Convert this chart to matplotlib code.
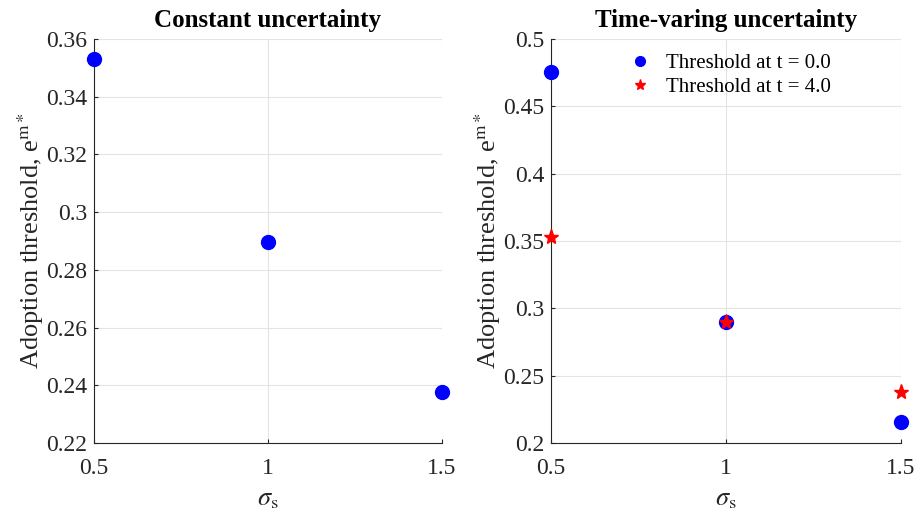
import matplotlib
matplotlib.use("Agg")
import matplotlib.pyplot as plt
from matplotlib.lines import Line2D

plt.rcParams['font.family'] = ['Liberation Serif', 'DejaVu Serif']
plt.rcParams['mathtext.fontset'] = 'stix'

sigma = [0.5, 1.0, 1.5]
const_thr = [0.353, 0.2897, 0.2378]
tv_thr_t0 = [0.4752, 0.2898, 0.2155]
tv_thr_t4 = [0.3533, 0.2898, 0.2380]

left_yticks = [0.22, 0.24, 0.26, 0.28, 0.30, 0.32, 0.34, 0.36]
left_ylabels = ['0.22', '0.24', '0.26', '0.28', '0.3', '0.32', '0.34', '0.36']
right_yticks = [0.2, 0.25, 0.3, 0.35, 0.4, 0.45, 0.5]
right_ylabels = ['0.2', '0.25', '0.3', '0.35', '0.4', '0.45', '0.5']
xticks = [0.5, 1.0, 1.5]
xlabels = ['0.5', '1', '1.5']

fig = plt.figure(figsize=(9.15, 5.17), dpi=100)
ax1 = fig.add_axes([94/915, 1-443/517, (442-94)/915, (443-39)/517])
ax2 = fig.add_axes([551/915, 1-443/517, (901-551)/915, (443-39)/517])

def style(ax, yt, yl, title):
    ax.set_xlim(0.5, 1.5)
    ax.set_ylim(yt[0], yt[-1])
    ax.set_xticks(xticks)
    ax.set_xticklabels(xlabels)
    ax.set_yticks(yt)
    ax.set_yticklabels(yl)
    ax.grid(True, color='#e3e3e3', linewidth=0.8)
    ax.set_axisbelow(True)
    for s in ['top', 'right']:
        ax.spines[s].set_visible(False)
    for s in ['left', 'bottom']:
        ax.spines[s].set_color('#262626')
        ax.spines[s].set_linewidth(0.8)
    ax.tick_params(direction='in', length=3, labelsize=17, colors='#262626')
    ax.tick_params(axis='x', pad=11)
    ax.tick_params(axis='y', pad=5)
    ax.set_xlabel(r'$\sigma_{\mathrm{s}}$', fontsize=19, color='#262626', labelpad=7)
    ax.set_ylabel(r'Adoption threshold, e$^{\mathrm{m*}}$', fontsize=19, color='#262626', labelpad=0)
    ax.set_title(title, fontsize=18, fontweight='bold', pad=9)

style(ax1, left_yticks, left_ylabels, 'Constant uncertainty')
style(ax2, right_yticks, right_ylabels, 'Time-varing uncertainty')

ax1.plot(sigma, const_thr, 'o', color='blue', markersize=10, clip_on=False, zorder=5)
ax2.plot(sigma, tv_thr_t0, 'o', color='blue', markersize=10, clip_on=False, zorder=5)
ax2.plot(sigma, tv_thr_t4, '*', color='red', markersize=11, clip_on=False, zorder=6)

handles = [Line2D([], [], marker='o', linestyle='none', color='blue', markersize=7),
           Line2D([], [], marker='*', linestyle='none', color='red', markersize=8)]
ax2.legend(handles, ['Threshold at t = 0.0', 'Threshold at t = 4.0'], loc='upper center',
           bbox_to_anchor=(0.497, 1.011), frameon=False, fontsize=15, handletextpad=0.25,
           labelspacing=0.24)

fig.savefig('out.png', dpi=100)
